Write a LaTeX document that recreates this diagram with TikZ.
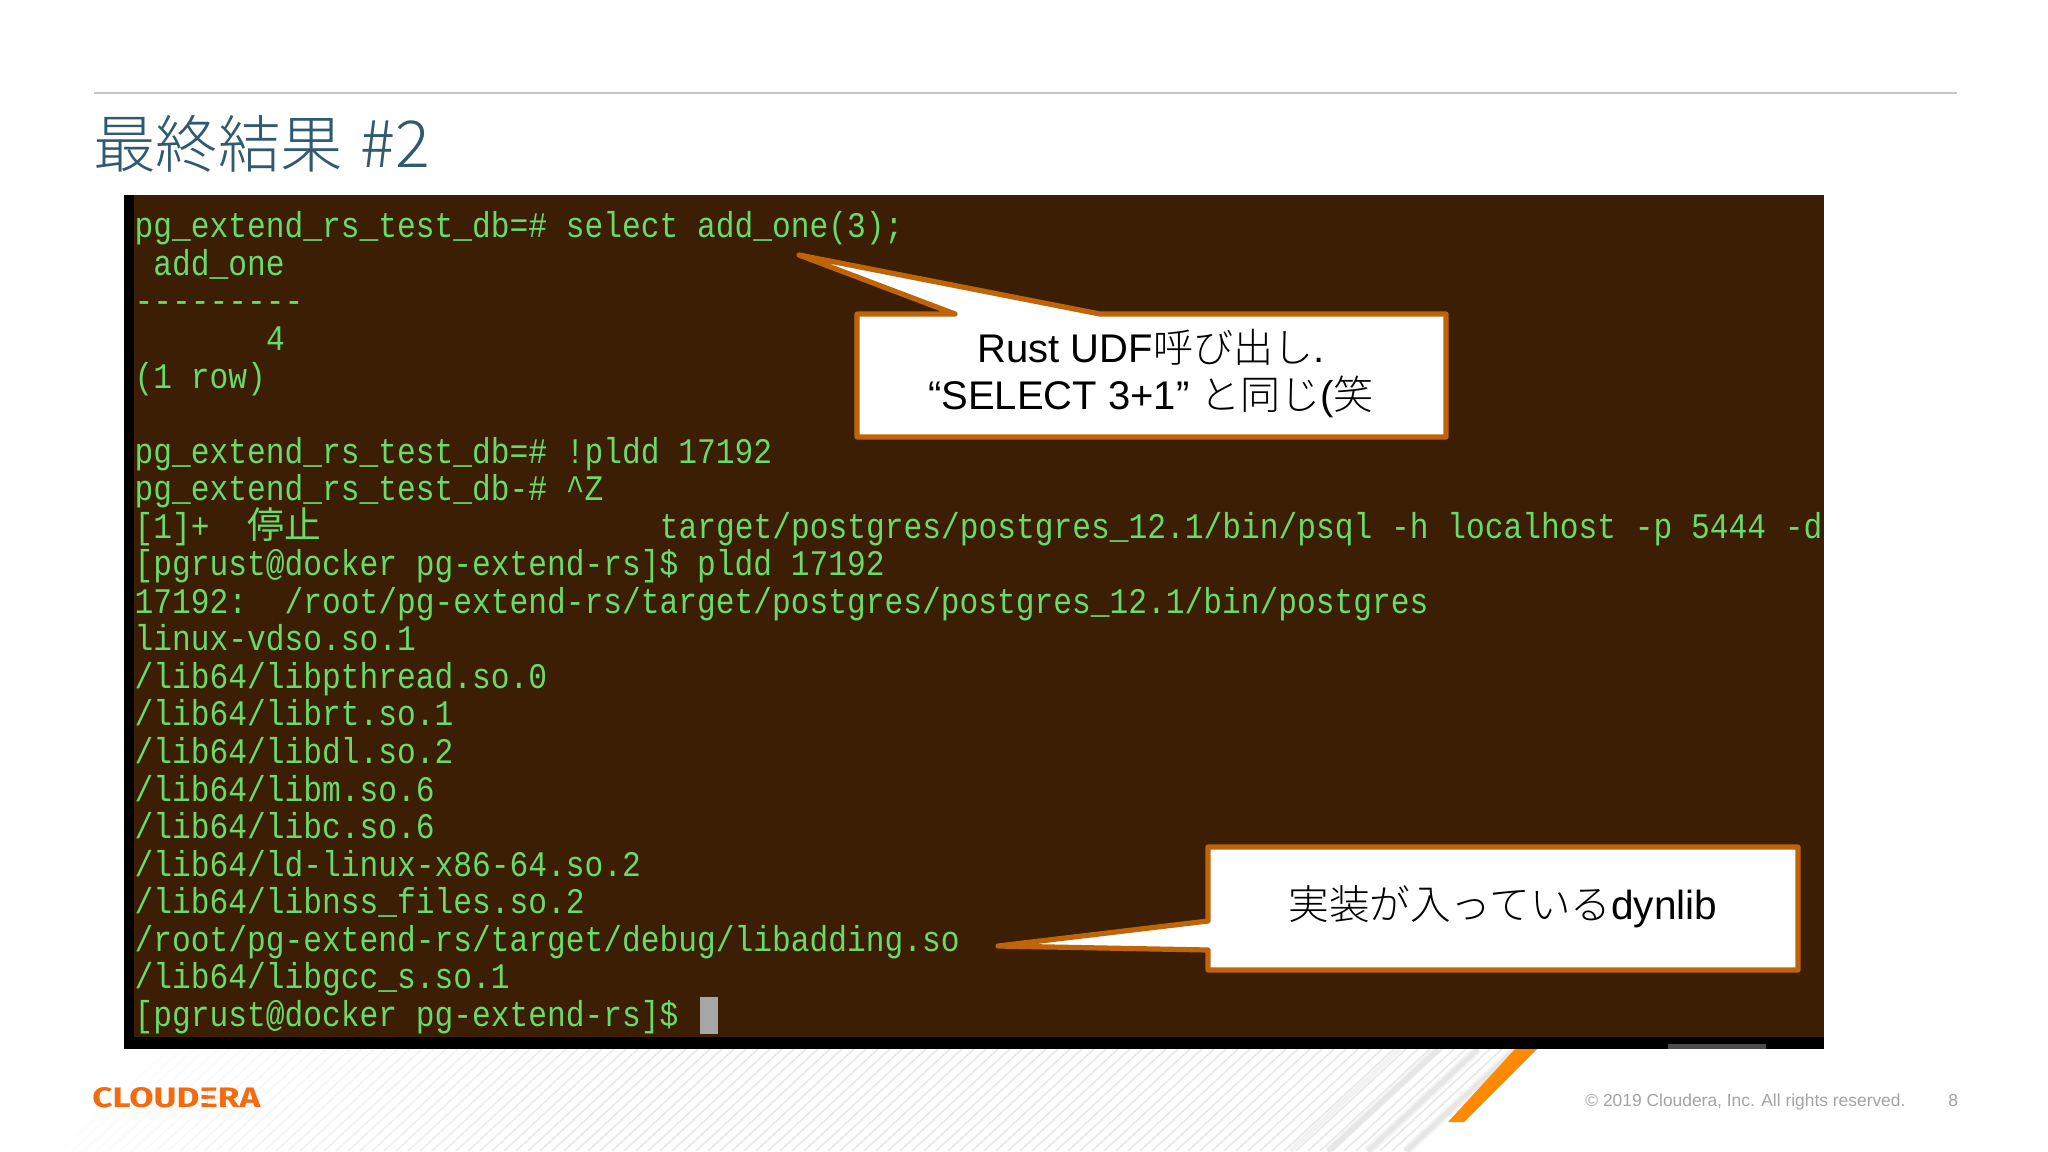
\documentclass[tikz,border=0pt]{standalone}
\usepackage{fontspec}
\usepackage{graphicx}
\setmainfont{Liberation Sans}
\newfontfamily\termfont[FakeStretch=0.868]{Liberation Mono}
\newfontfamily\cjkfont{Noto Sans CJK JP Light}
\newfontfamily\cjkterm{Noto Sans CJK JP}
\newfontfamily\logofont{Fira Sans}
\definecolor{termbg}{HTML}{3B1E04}
\definecolor{termfg}{HTML}{6ADB6A}
\definecolor{calloutedge}{HTML}{C0640A}
\definecolor{titleblue}{HTML}{2F5A70}
\definecolor{footgray}{HTML}{A3A3A3}
\definecolor{hatchgray}{HTML}{E6E6E6}
\definecolor{logoorange}{HTML}{F56A0E}
\definecolor{stripeorange}{HTML}{FF8A00}
\tikzset{
  termline/.style={anchor=base west,inner sep=0pt,text=termfg,font=\termfont\fontsize{18}{20}\selectfont},
  calloutshape/.style={draw=calloutedge,fill=white,line width=2.6pt,line join=round},
  callouttext/.style={anchor=center,inner sep=0pt,align=center,text=black,font=\fontsize{20}{24.5}\selectfont},
  foottext/.style={anchor=base west,inner sep=0pt,text=footgray,font=\fontsize{8.7}{10}\selectfont},
}
\newcommand{\tline}[4][0]{\node[termline] (#2) at ({134.3+18.76*#1},{237.8+37.55*#3}) {#4};}
\begin{document}
\begin{tikzpicture}[x=0.5pt,y=-0.5pt]
\useasboundingbox (0,0) rectangle (2048,1151);
\fill[white] (0,0) rectangle (2048,1151);
% hatch
\begin{scope}
\clip (0,1049) rectangle (2048,1151);
\foreach \k in {0,...,112}{
  \pgfmathsetmacro{\xb}{60+12*\k}
  \pgfmathsetmacro{\op}{min(1,max(0,(\xb-40)/500))*0.85+0.05}
  \draw[hatchgray,line width=0.8pt,opacity=\op] (\xb,1151) -- ++(110,-102);
}
\draw[hatchgray,line width=2.5pt,opacity=.5] (1290,1151) -- ++(110,-102);
\foreach \xb/\w in {1328/3,1368/3.5,1406/3.5}{
  \draw[hatchgray,line width=1.3*\w pt,opacity=.45] (\xb,1151) -- ++(110,-102);
  \draw[hatchgray,line width=0.7*\w pt] (\xb,1151) -- ++(110,-102);
}
\fill[white] (1428,1151) -- (1538,1049) -- (2048,1049) -- (2048,1151) -- cycle;
\end{scope}
\fill[stripeorange] (1515,1049) -- (1537,1049) -- (1464,1122) -- (1448,1122) -- cycle;
% header
\draw[gray!45,line width=1pt] (94,93) -- (1957,93);
\node[anchor=base west,inner sep=0pt,text=titleblue,font=\cjkfont\fontsize{31.2}{34}\selectfont] (title) at (93,167.5) {最終結果\ \hspace{2pt}{\fontsize{32.4}{34}\selectfont\#2}};
% terminal
\fill[black] (124,195) rectangle (1824,1049);
\fill[termbg] (134,195) rectangle (1824,1037);
\fill[black!70!white] (1668,1044) rectangle (1766,1049);
\tline{r0}{0}{pg\_extend\_rs\_test\_db=\# select add\_one(3);}
\tline[1]{r1}{1}{add\_one}
\tline{r2}{2}{---------}
\tline[7]{r3}{3}{4}
\tline{r4}{4}{(1 row)}
\tline{r6}{6}{pg\_extend\_rs\_test\_db=\# !pldd 17192}
\tline{r7}{7}{pg\_extend\_rs\_test\_db-\# \textasciicircum Z}
\tline{r8a}{8}{[1]+}
\node[termline,font=\cjkterm\fontsize{18.4}{20}\selectfont] (r8b) at ({134.3+18.76*6},{237.8+37.55*8}) {停止};
\tline[28]{r8c}{8}{target/postgres/postgres\_12.1/bin/psql -h localhost -p 5444 -d}
\tline{r9}{9}{[pgrust@docker pg-extend-rs]\$ pldd 17192}
\tline{r10}{10}{17192:\ \ /root/pg-extend-rs/target/postgres/postgres\_12.1/bin/postgres}
\tline{r11}{11}{linux-vdso.so.1}
\tline{r12}{12}{/lib64/libpthread.so.0}
\tline{r13}{13}{/lib64/librt.so.1}
\tline{r14}{14}{/lib64/libdl.so.2}
\tline{r15}{15}{/lib64/libm.so.6}
\tline{r16}{16}{/lib64/libc.so.6}
\tline{r17}{17}{/lib64/ld-linux-x86-64.so.2}
\tline{r18}{18}{/lib64/libnss\_files.so.2}
\tline{r19}{19}{/root/pg-extend-rs/target/debug/libadding.so}
\tline{r20}{20}{/lib64/libgcc\_s.so.1}
\tline{r21}{21}{[pgrust@docker pg-extend-rs]\$}
\fill[gray!70] (700,997) rectangle (718,1034);
% callouts
\draw[calloutshape] (857,314) -- (955,314) -- (799,255) -- (1100,314) -- (1446,314) -- (1446,437) -- (857,437) -- cycle;
\node[callouttext] (c1a) at (1151,347) {Rust UDF{\cjkfont 呼び出し}.};
\node[callouttext] (c1b) at (1151,397) {“SELECT 3+1” {\cjkfont と同じ}({\cjkfont 笑}};
\draw[calloutshape] (1208,847) -- (1798,847) -- (1798,970) -- (1208,970) -- (1208,950) -- (998,946) -- (1208,921) -- cycle;
\node[callouttext,font=\fontsize{20.3}{24}\selectfont] (c2) at (1503,907) {{\cjkfont 実装が入っている}dynlib};
% footer
\node[anchor=base west,inner sep=0pt,text=logoorange,font=\logofont\bfseries] (logo) at (92,1107) {\resizebox{84pt}{10pt}{CLOUDERA}};
\fill[white] (200.5,1091) rectangle (207,1095);
\fill[white] (200.5,1099) rectangle (207,1103);
\node[foottext] (copy) at (1585,1106) {© 2019 Cloudera, Inc. All rights reserved.};
\node[foottext] (page) at (1948,1106) {8};
\end{tikzpicture}
\end{document}
